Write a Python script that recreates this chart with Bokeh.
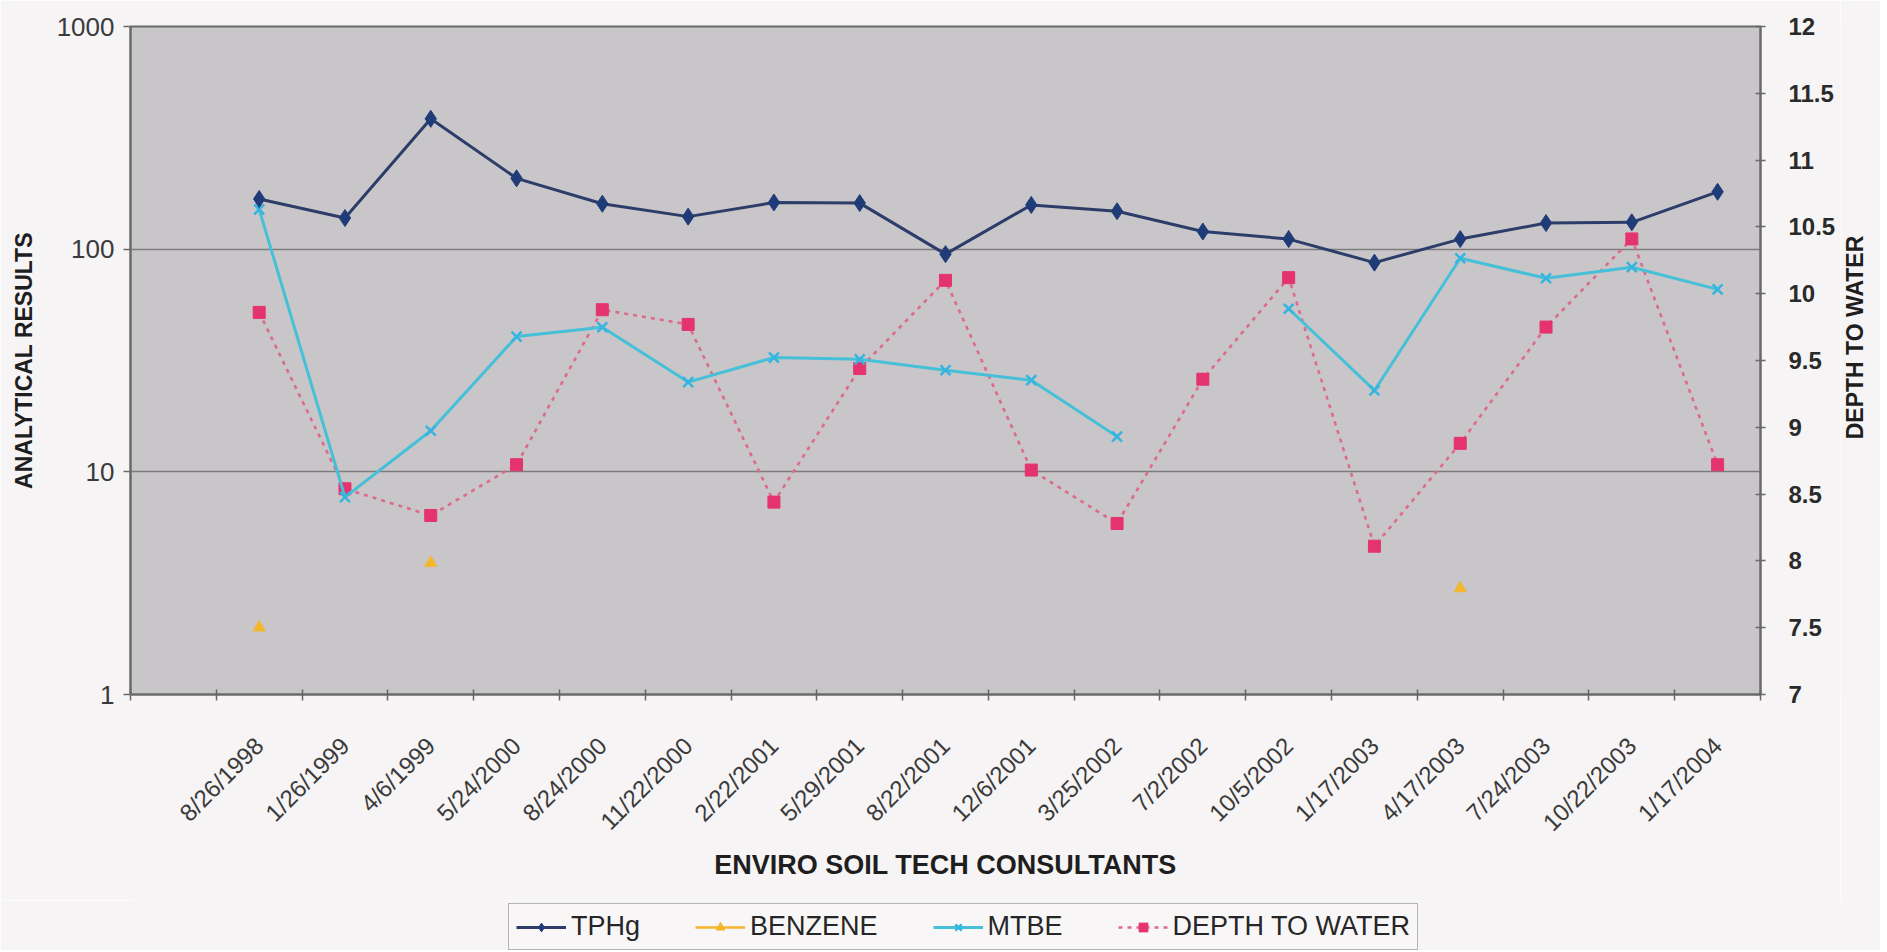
import math
from bokeh.plotting import figure
from bokeh.layouts import column, row
from bokeh.models import (Range1d, LinearAxis, LinearScale, FixedTicker, Legend,
                          LegendItem, ColumnDataSource)
from bokeh.core.properties import value
from bokeh.embed import file_html
from bokeh.resources import INLINE

NaN = float("nan")

# ---------------- data ----------------
dates = ["8/26/1998", "1/26/1999", "4/6/1999", "5/24/2000", "8/24/2000",
         "11/22/2000", "2/22/2001", "5/29/2001", "8/22/2001", "12/6/2001",
         "3/25/2002", "7/2/2002", "10/5/2002", "1/17/2003", "4/17/2003",
         "7/24/2003", "10/22/2003", "1/17/2004"]
tphg = [168, 138, 385, 208, 160, 140, 162, 161, 95, 158,
        148, 120, 111, 87, 111, 131, 132, 181]
benzene = [2.0, NaN, 3.9, NaN, NaN, NaN, NaN, NaN, NaN, NaN,
           NaN, NaN, NaN, NaN, 3.0, NaN, NaN, NaN]
mtbe = [151, 7.7, 15.3, 40.5, 44.6, 25.3, 32.6, 32.0, 28.6, 25.8,
        14.4, NaN, 54, 23.2, 91, 74, 83, 66]
depth = [9.86, 8.54, 8.34, 8.72, 9.88, 9.77, 8.44, 9.44, 10.10, 8.68,
         8.28, 9.36, 10.12, 8.11, 8.88, 9.75, 10.41, 8.72]

left_ticks = [1, 10, 100, 1000]
left_grid = [10, 100]
right_ticks = [7, 7.5, 8, 8.5, 9, 9.5, 10, 10.5, 11, 11.5, 12]
series_names = ["TPHg", "BENZENE", "MTBE", "DEPTH TO WATER"]
right_title = "DEPTH TO WATER"

# category positions: slot 0 is an empty category, dates occupy slots 1..18
xpos = [i + 1 for i in range(len(dates))]
src = ColumnDataSource(dict(x=xpos, date=dates, tphg=tphg, benzene=benzene,
                            mtbe=mtbe, depth=depth))

FONT = "Liberation Sans"
BG = "#f6f4f5"
W = 1880
TW = 40                      # strip on the right that carries the right-hand title
PW = W - TW
MAIN_H = 900
LEG_H = 50
FRAME_L, FRAME_R, FRAME_T, FRAME_B = 130, 1760, 26, 694

C_TPHG = "#2c3d6a"
C_TPHG_M = "#1f3b78"
C_BENZ = "#f4b62a"
C_MTBE = "#45c0d8"
C_MTBE_M = "#33b5e0"
C_DEPTH = "#e5336f"
C_DEPTH_L = "#de6a8d"

p = figure(width=PW, height=MAIN_H, output_backend="svg", toolbar_location=None,
           x_range=Range1d(-0.5, len(dates) + 0.5), y_range=Range1d(1, 1000),
           y_axis_type="log",
           min_border_left=FRAME_L, min_border_right=PW - FRAME_R,
           min_border_top=FRAME_T, min_border_bottom=MAIN_H - FRAME_B)
p.background_fill_color = "#c8c6c8"
p.border_fill_color = BG
p.outline_line_color = "#6a6a6a"
p.outline_line_width = 2

# grid
p.xgrid.visible = False
p.ygrid.ticker = FixedTicker(ticks=left_grid)
p.ygrid.grid_line_color = "#7c7c7c"
p.ygrid.grid_line_width = 1.6

# x axis
xa = p.xaxis[0]
xa.ticker = FixedTicker(ticks=xpos, minor_ticks=[k - 0.5 for k in range(len(dates) + 2)])
xa.major_label_overrides = {x: d for x, d in zip(xpos, dates)}
xa.major_label_orientation = math.pi / 4
xa.major_tick_in = 0
xa.major_tick_out = 0
xa.minor_tick_in = 5
xa.minor_tick_out = 6
xa.minor_tick_line_color = "#666666"
xa.minor_tick_line_width = 1.5
xa.axis_line_color = "#6a6a6a"
xa.axis_line_width = 2
xa.major_label_standoff = 41
xa.major_label_text_font = FONT
xa.major_label_text_font_size = "24px"
xa.major_label_text_color = "#3a3a3a"
xa.axis_label = "ENVIRO SOIL TECH CONSULTANTS"
xa.axis_label_text_font = FONT
xa.axis_label_text_font_style = "bold"
xa.axis_label_text_font_size = "27px"
xa.axis_label_text_color = "#1e1e1e"
xa.axis_label_standoff = 1

# left axis
ya = p.yaxis[0]
ya.ticker = FixedTicker(ticks=left_ticks, minor_ticks=[])
ya.major_label_overrides = {t: str(t) for t in left_ticks}
ya.major_tick_in = 0
ya.major_tick_out = 7
ya.major_tick_line_color = "#6a6a6a"
ya.major_tick_line_width = 1.5
ya.axis_line_color = "#6a6a6a"
ya.axis_line_width = 2
ya.major_label_standoff = 9
ya.major_label_text_font = FONT
ya.major_label_text_font_size = "26px"
ya.major_label_text_color = "#3a3a3a"
ya.axis_label = "ANALYTICAL RESULTS"
ya.axis_label_text_font = FONT
ya.axis_label_text_font_style = "bold"
ya.axis_label_text_font_size = "23px"
ya.axis_label_text_color = "#1e1e1e"
ya.axis_label_standoff = 17

# right axis (linear scale for depth to water)
p.extra_y_ranges = {"depth": Range1d(7, 12)}
p.extra_y_scales = {"depth": LinearScale()}
ra = LinearAxis(y_range_name="depth", ticker=FixedTicker(ticks=right_ticks, minor_ticks=[]))
ra.major_label_overrides = {t: f"{t:g}" for t in right_ticks}
ra.major_tick_in = 5
ra.major_tick_out = 5
ra.major_tick_line_color = "#6a6a6a"
ra.major_tick_line_width = 1.5
ra.axis_line_color = "#6a6a6a"
ra.axis_line_width = 2
ra.major_label_standoff = 23
ra.major_label_text_font = FONT
ra.major_label_text_font_style = "bold"
ra.major_label_text_font_size = "24px"
ra.major_label_text_color = "#2a2a2a"
p.add_layout(ra, "right")

# series
d_line = p.line("x", "depth", source=src, y_range_name="depth", line_color=C_DEPTH_L,
                line_width=2.6, line_dash="4 5")
d_pts = p.scatter("x", "depth", source=src, y_range_name="depth", marker="square",
                  size=12, fill_color=C_DEPTH, line_color=C_DEPTH)
m_line = p.line("x", "mtbe", source=src, line_color=C_MTBE, line_width=3)
m_pts = p.scatter("x", "mtbe", source=src, marker="x", size=14,
                  line_color=C_MTBE_M, line_width=2.5)
b_line = p.line("x", "benzene", source=src, line_color=C_BENZ, line_width=2.5)
b_pts = p.scatter("x", "benzene", source=src, marker="triangle", size=12,
                  fill_color=C_BENZ, line_color=C_BENZ)
t_line = p.line("x", "tphg", source=src, line_color=C_TPHG, line_width=3)
t_pts = p.scatter("x", "tphg", source=src, marker="diamond", size=17,
                  fill_color=C_TPHG_M, line_color=C_TPHG_M)

# ---------------- right-hand title strip (reads bottom to top) ----------------
tf = figure(width=TW, height=MAIN_H, output_backend="svg", toolbar_location=None,
            x_range=Range1d(0, TW), y_range=Range1d(MAIN_H - FRAME_B, MAIN_H - FRAME_T),
            x_axis_location=None, y_axis_location=None,
            min_border_left=0, min_border_right=0,
            min_border_top=FRAME_T, min_border_bottom=MAIN_H - FRAME_B)
tf.grid.visible = False
tf.outline_line_color = None
tf.background_fill_color = BG
tf.border_fill_color = BG
tf.text(x=[14], y=[MAIN_H - 337], text=[right_title], angle=math.pi / 2,
        text_align="center", text_baseline="middle",
        text_font=value(FONT), text_font_style="bold", text_font_size="23px",
        text_color="#1e1e1e")

# ---------------- legend strip below the chart ----------------
lg = figure(width=W, height=LEG_H, output_backend="svg", toolbar_location=None,
            x_range=Range1d(0, 1), y_range=Range1d(0, 1),
            x_axis_location=None, y_axis_location=None,
            min_border_left=FRAME_L, min_border_right=0,
            min_border_top=0, min_border_bottom=0)
lg.grid.visible = False
lg.outline_line_color = None
lg.background_fill_color = BG
lg.border_fill_color = BG
styles = [
    (dict(line_color=C_TPHG, line_width=3),
     dict(marker="diamond", size=17, fill_color=C_TPHG_M, line_color=C_TPHG_M)),
    (dict(line_color=C_BENZ, line_width=2.5),
     dict(marker="triangle", size=12, fill_color=C_BENZ, line_color=C_BENZ)),
    (dict(line_color=C_MTBE, line_width=3),
     dict(marker="x", size=14, line_color=C_MTBE_M, line_width=2.5)),
    (dict(line_color=C_DEPTH_L, line_width=2.6, line_dash="4 5"),
     dict(marker="square", size=12, fill_color=C_DEPTH, line_color=C_DEPTH)),
]
items = []
for name, (ls, ms) in zip(series_names, styles):
    # legend-only renderers: a single NaN point draws nothing in the strip
    r1 = lg.line(x=[NaN], y=[NaN], **ls)
    r2 = lg.scatter(x=[NaN], y=[NaN], **ms)
    items.append(LegendItem(label=name, renderers=[r1, r2]))

legend = Legend(items=items, orientation="horizontal", location=(508 - FRAME_L, 0))
legend.label_text_font = FONT
legend.label_text_font_size = "27px"
legend.label_text_color = "#262626"
legend.glyph_width = 50
legend.glyph_height = 22
legend.label_standoff = 5
legend.spacing = 55
legend.padding = 7
legend.margin = 0
legend.border_line_color = "#6f6f6f"
legend.border_line_width = 1.5
legend.background_fill_color = "#f8f6f7"
legend.background_fill_alpha = 1.0
lg.add_layout(legend, "center")

layout = column(row(p, tf, spacing=0), lg, spacing=0)
open("out.html", "w").write(file_html(layout, INLINE))
